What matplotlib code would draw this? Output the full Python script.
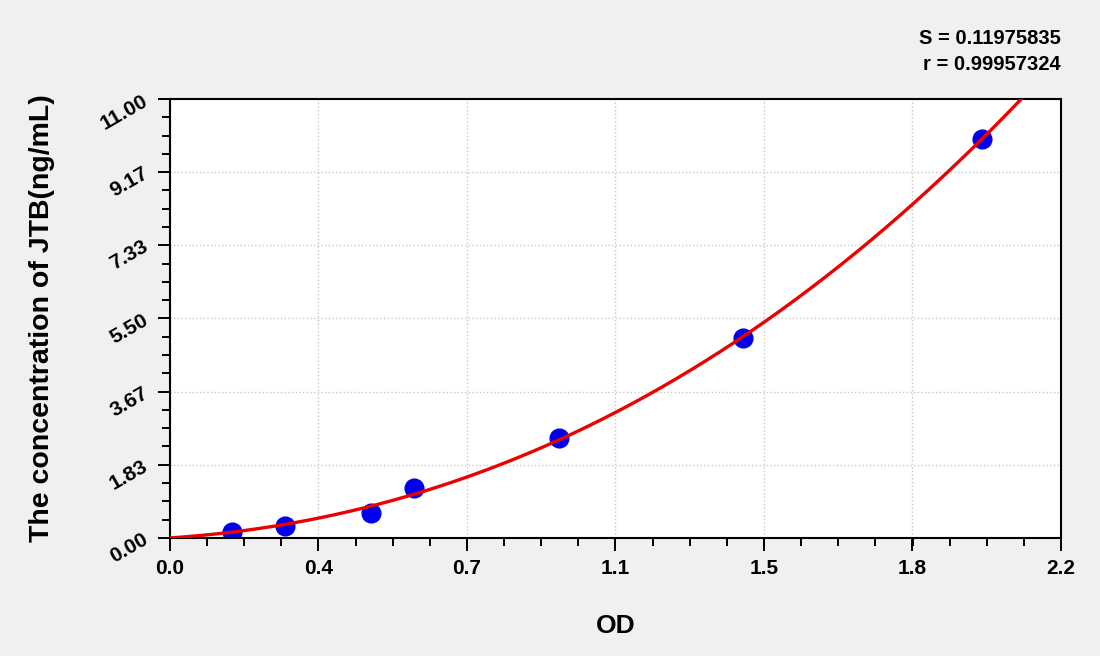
import numpy as np
import matplotlib.pyplot as plt
from matplotlib.ticker import FixedLocator, AutoMinorLocator

# standard curve points (OD vs concentration)
od = [0.154, 0.285, 0.496, 0.602, 0.961, 1.415, 2.004]
conc = [0.16, 0.31, 0.63, 1.25, 2.50, 5.00, 10.00]

x_ticks = [0.0, 0.3667, 0.7333, 1.1, 1.4667, 1.8333, 2.2]
x_labels = ['0.0', '0.4', '0.7', '1.1', '1.5', '1.8', '2.2']
y_ticks = [0.0, 1.8333, 3.6667, 5.5, 7.3333, 9.1667, 11.0]
y_labels = ['0.00', '1.83', '3.67', '5.50', '7.33', '9.17', '11.00']

S_txt = 'S = 0.11975835'
r_txt = 'r = 0.99957324'

plt.rcParams['font.family'] = ['Liberation Sans', 'DejaVu Sans']

# cubic fit through the origin
xa = np.array(od)
A = np.vstack([xa, xa**2, xa**3]).T
coef = np.linalg.lstsq(A, np.array(conc), rcond=None)[0]
xf = np.linspace(0, 2.2, 300)
yf = coef[0]*xf + coef[1]*xf**2 + coef[2]*xf**3

fig = plt.figure(figsize=(11, 6.56), dpi=100, facecolor='#f0f0f0')
ax = fig.add_axes([0.1545, 0.18, 0.81, 0.669])
ax.set_facecolor('white')

ax.plot(xf, yf, color='#ee0000', lw=2.4, zorder=3)
ax.plot(od, conc, 'o', color='#0000ee', ms=13.5, zorder=2)

ax.set_xlim(0, 2.2)
ax.set_ylim(0, 11)
ax.xaxis.set_major_locator(FixedLocator(x_ticks))
ax.yaxis.set_major_locator(FixedLocator(y_ticks))
ax.set_xticklabels(x_labels, fontsize=15, fontweight='bold')
ax.set_yticklabels(y_labels, fontsize=15, fontweight='bold', rotation=30,
                   ha='right', va='center', rotation_mode='anchor')
ax.xaxis.set_minor_locator(AutoMinorLocator(4))
ax.yaxis.set_minor_locator(AutoMinorLocator(4))
ax.tick_params(which='major', direction='out', length=9, width=1.4, pad=6)
ax.tick_params(which='minor', direction='out', length=5.5, width=1.4)
ax.tick_params(axis='y', which='major', pad=8)
for s in ax.spines.values():
    s.set_linewidth(1.5)

ax.grid(True, which='major', color='#c8c8c8', linestyle=':', lw=1)
ax.set_axisbelow(True)

ax.set_xlabel('OD', fontsize=19, fontweight='bold', labelpad=26)
ax.set_ylabel('The concentration of JTB(ng/mL)', fontsize=20.5, fontweight='bold', labelpad=30)

fig.text(0.964, 0.942, S_txt, ha='right', va='center', fontsize=14.5, fontweight='bold')
fig.text(0.964, 0.902, r_txt, ha='right', va='center', fontsize=14.5, fontweight='bold')

fig.savefig('out.png', dpi=100, facecolor=fig.get_facecolor())
